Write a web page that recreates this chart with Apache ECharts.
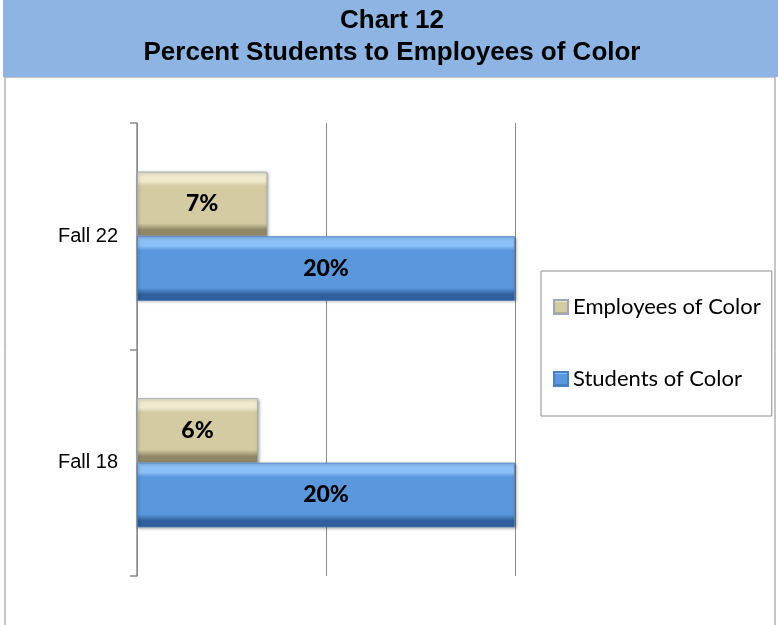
<!DOCTYPE html>
<html>
<head>
<meta charset="utf-8">
<script src="https://cdn.jsdelivr.net/npm/echarts@6/dist/echarts.min.js"></script>
<style>
html,body{margin:0;padding:0;background:#fff;}
#chart{width:778px;height:625px;}
</style>
</head>
<body>
<div id="chart"></div>
<script>
const titleLines = ['Chart 12', 'Percent Students to Employees of Color'];
const categories = ['Fall 18', 'Fall 22'];
const employeesOfColor = [6.4, 6.9];
const studentsOfColor = [20, 20];
const seriesNames = ['Employees of Color', 'Students of Color'];

function grad(light, mid, dark) {
  return new echarts.graphic.LinearGradient(0, 0, 0, 1, [
    {offset: 0, color: light},
    {offset: 0.15, color: light},
    {offset: 0.22, color: mid},
    {offset: 0.8, color: mid},
    {offset: 0.9, color: dark},
    {offset: 1, color: dark}
  ]);
}

const chart = echarts.init(document.getElementById('chart'), null, {renderer: 'canvas'});
const labelStyle = {
  show: true,
  position: 'inside',
  formatter: p => Math.round(p.value) + '%',
  fontFamily: 'Lato',
  fontWeight: 900,
  fontSize: 23,
  color: '#000'
};
chart.setOption({
  animation: false,
  backgroundColor: '#fff',
  graphic: [
    {type: 'rect', z: -1, shape: {x: 5, y: 77, width: 770, height: 560}, style: {fill: '#fff', stroke: '#8c8c8c', lineWidth: 1}},
    {type: 'rect', z: 0, shape: {x: 3, y: 0, width: 775, height: 77}, style: {fill: '#8DB4E3'}},
    {type: 'text', z: 1, x: 392, y: 5, style: {text: titleLines.join('\n'), font: 'bold 26px "Liberation Sans", Arial', fill: '#000', lineHeight: 32, align: 'center'}}
  ],
  grid: {left: 137, right: 263, top: 123, bottom: 49, containLabel: false},
  legend: {
    orient: 'vertical',
    left: 541,
    top: 271,
    data: seriesNames,
    padding: [25, 11, 26, 12],
    itemGap: 50,
    itemWidth: 14,
    itemHeight: 14,
    icon: 'rect',
    borderColor: '#8c8c8c',
    borderWidth: 1,
    textStyle: {fontFamily: 'Lato', fontSize: 22, color: '#000', lineHeight: 22}
  },
  xAxis: {
    type: 'value',
    min: 0, max: 20, interval: 10,
    axisLabel: {show: false},
    axisLine: {show: false},
    axisTick: {show: false},
    splitLine: {show: true, lineStyle: {color: '#8c8c8c', width: 1}}
  },
  yAxis: {
    type: 'category',
    data: categories,
    axisLine: {show: true, lineStyle: {color: '#8c8c8c', width: 1.5}},
    axisTick: {show: true, length: 7, lineStyle: {color: '#8c8c8c', width: 1.5}},
    axisLabel: {fontFamily: '"Liberation Sans", Arial', fontSize: 20, color: '#000', margin: 19}
  },
  series: [
    {
      name: seriesNames[0], type: 'bar', data: employeesOfColor,
      barCategoryGap: '43%', barGap: '0%',
      itemStyle: {color: grad('#EFE9CE', '#D4CBA3', '#8F8765'), borderColor: '#9CA8B8', borderWidth: 0.8,
        shadowColor: 'rgba(0,0,0,0.35)', shadowBlur: 3, shadowOffsetX: 1, shadowOffsetY: 1},
      label: labelStyle
    },
    {
      name: seriesNames[1], type: 'bar', data: studentsOfColor,
      barCategoryGap: '43%', barGap: '0%',
      itemStyle: {color: grad('#8CC0F7', '#5B97DD', '#2F5F9C'), borderColor: '#4A7FC0', borderWidth: 0.8,
        shadowColor: 'rgba(0,0,0,0.35)', shadowBlur: 3, shadowOffsetX: 1, shadowOffsetY: 1},
      label: labelStyle
    }
  ]
});
</script>
</body>
</html>
